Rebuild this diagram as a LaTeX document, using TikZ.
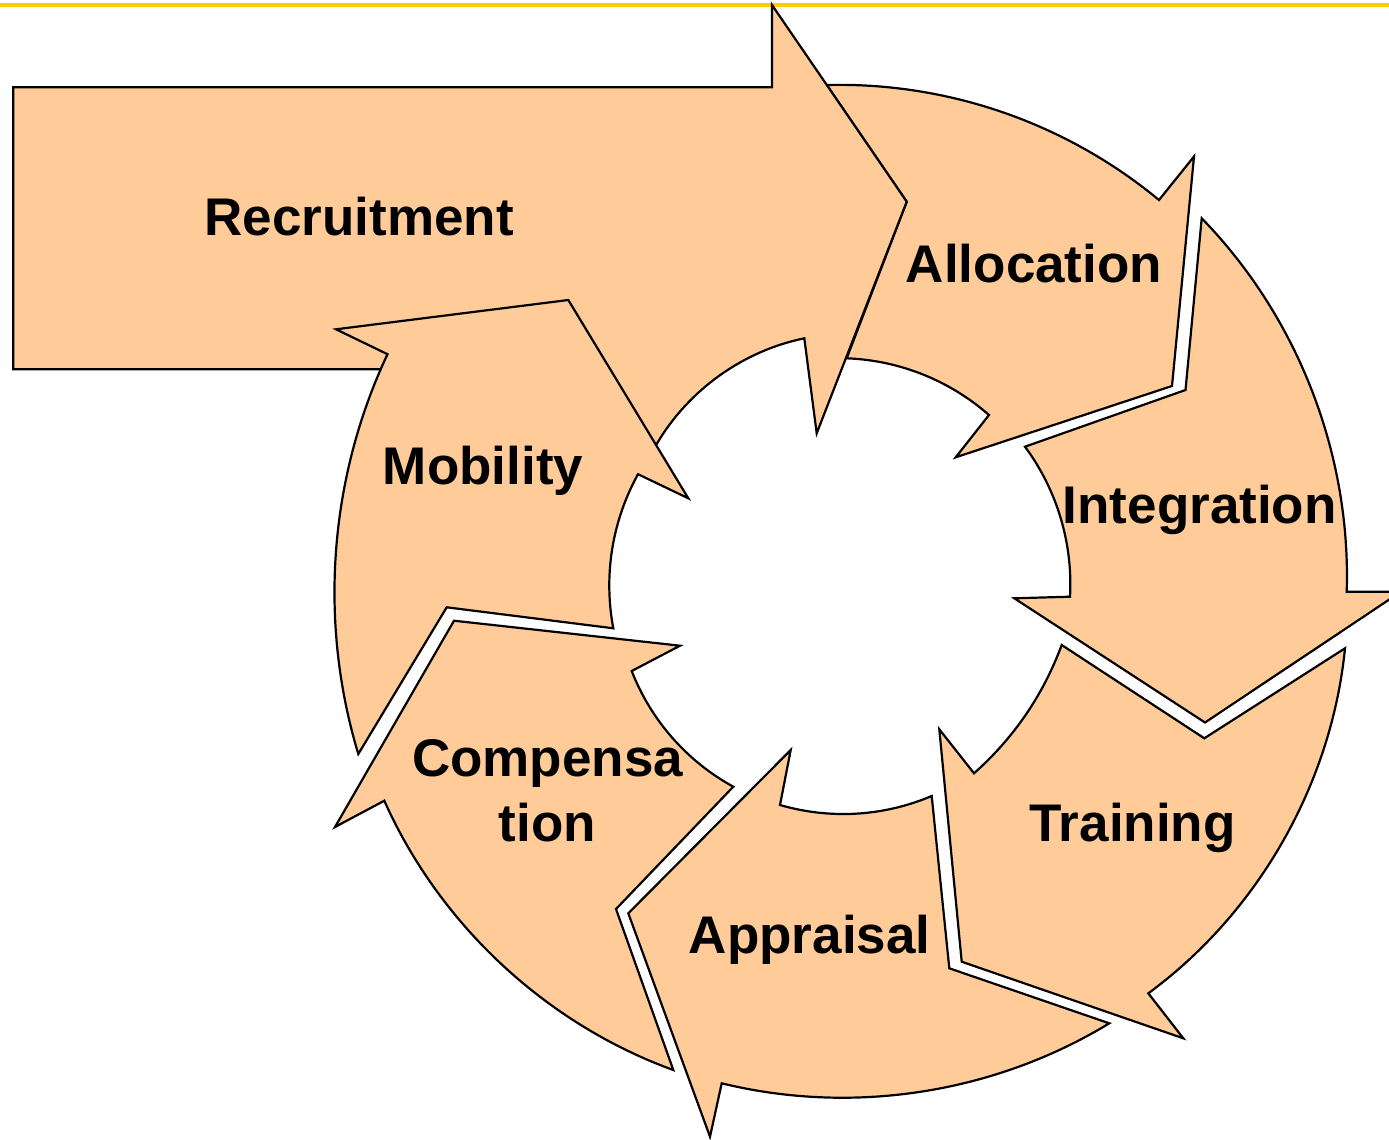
\documentclass[tikz,border=0pt]{standalone}
\usepackage{fontspec}
\setmainfont{Liberation Sans}
\definecolor{peach}{HTML}{FFCC99}
\definecolor{gold}{HTML}{FFCC00}
\tikzset{
  arrowshape/.style={fill=peach, draw=black, line width=2.2pt, line join=miter},
  outcurve/.style={bend left=#1, looseness=0.88},
  incurve/.style={bend right=#1, looseness=0.88},
  lbl/.style={font=\fontsize{53}{65}\selectfont\bfseries, inner sep=0pt, anchor=base},
  topline/.style={draw=gold, line width=4.8pt}
}
\begin{document}
\begin{tikzpicture}[x=1pt,y=-1pt]
\useasboundingbox (0,0) rectangle (1389,1140);
\clip (0,0) rectangle (1389,1140);
% top rule
\draw[topline] (0,5) -- (1389,5);
% Allocation
\filldraw[arrowshape] (826.7,85) to[outcurve=20.5] (1159,200)
  -- (1194,156.5) -- (1172,386) -- (955.7,457.3) -- (989,415)
  to[incurve=19.5] (846.7,358.3)
  -- (906.7,201.7) -- cycle;
% Integration
\filldraw[arrowshape] (1025,446.7) -- (1185.5,390) -- (1201.7,218.3)
  to[outcurve=23] (1346.7,591.7)
  -- (1401,591.7) -- (1205,722.5) -- (1014.3,598.3) -- (1070,596.7)
  to[incurve=19.8] (1025,446.7) -- cycle;
% Training
\filldraw[arrowshape] (1061.7,645) -- (1204.3,738.3) -- (1345,648.3)
  to[outcurve=24] (1148.3,993.3)
  -- (1183.3,1038.3) -- (961.7,961.7) -- (939.3,729.3) -- (974,773.3)
  to[incurve=14] (1061.7,645) -- cycle;
% Appraisal
\filldraw[arrowshape] (931.7,796) -- (949.3,968.3) -- (1109.3,1023.3)
  to[outcurve=22.5] (721.7,1083.3)
  -- (710,1136.7) -- (628.3,913.3) -- (790.7,750) -- (780,805)
  to[incurve=19.6] (931.7,796) -- cycle;
% Compensation
\filldraw[arrowshape] (733.3,786.7) -- (616,909) -- (673.3,1070)
  to[outcurve=23] (384.3,800.7)
  -- (335,827) -- (454,620.7) -- (680,645.7) -- (631.7,671)
  to[incurve=20] (733.3,786.7) -- cycle;
% Recruitment
\filldraw[arrowshape] (13.3,87.3) -- (772,87.3) -- (772,5) -- (906.7,201.7)
  -- (816.7,433.3) -- (804.3,338.3)
  to[incurve=24] (656.7,444)
  -- (520,400) -- (395,369.3) -- (13.3,369.3) -- cycle;
% Mobility
\filldraw[arrowshape] (613.3,628.3) -- (446.7,607.3) -- (358.3,754)
  to[outcurve=21] (387.5,354.2)
  -- (336,329.3) -- (568.3,300) -- (688.3,498.3) -- (638,474.2)
  to[incurve=19.8] (613.3,628.3) -- cycle;
% labels
\node[lbl] (recruitment) at (359.3,235) {Recruitment};
\node[lbl] (allocation) at (1034,282.7) {Allocation};
\node[lbl] (integration) at (1199.7,523.3) {Integration};
\node[lbl] (training) at (1132.5,841.7) {Training};
\node[lbl] (appraisal) at (809.7,953.3) {Appraisal};
\node[lbl] (compensa) at (547.5,776.7) {Compensa};
\node[lbl] (tion) at (547.5,841.7) {tion};
\node[lbl] (mobility) at (483,484) {Mobility};
\end{tikzpicture}
\end{document}
